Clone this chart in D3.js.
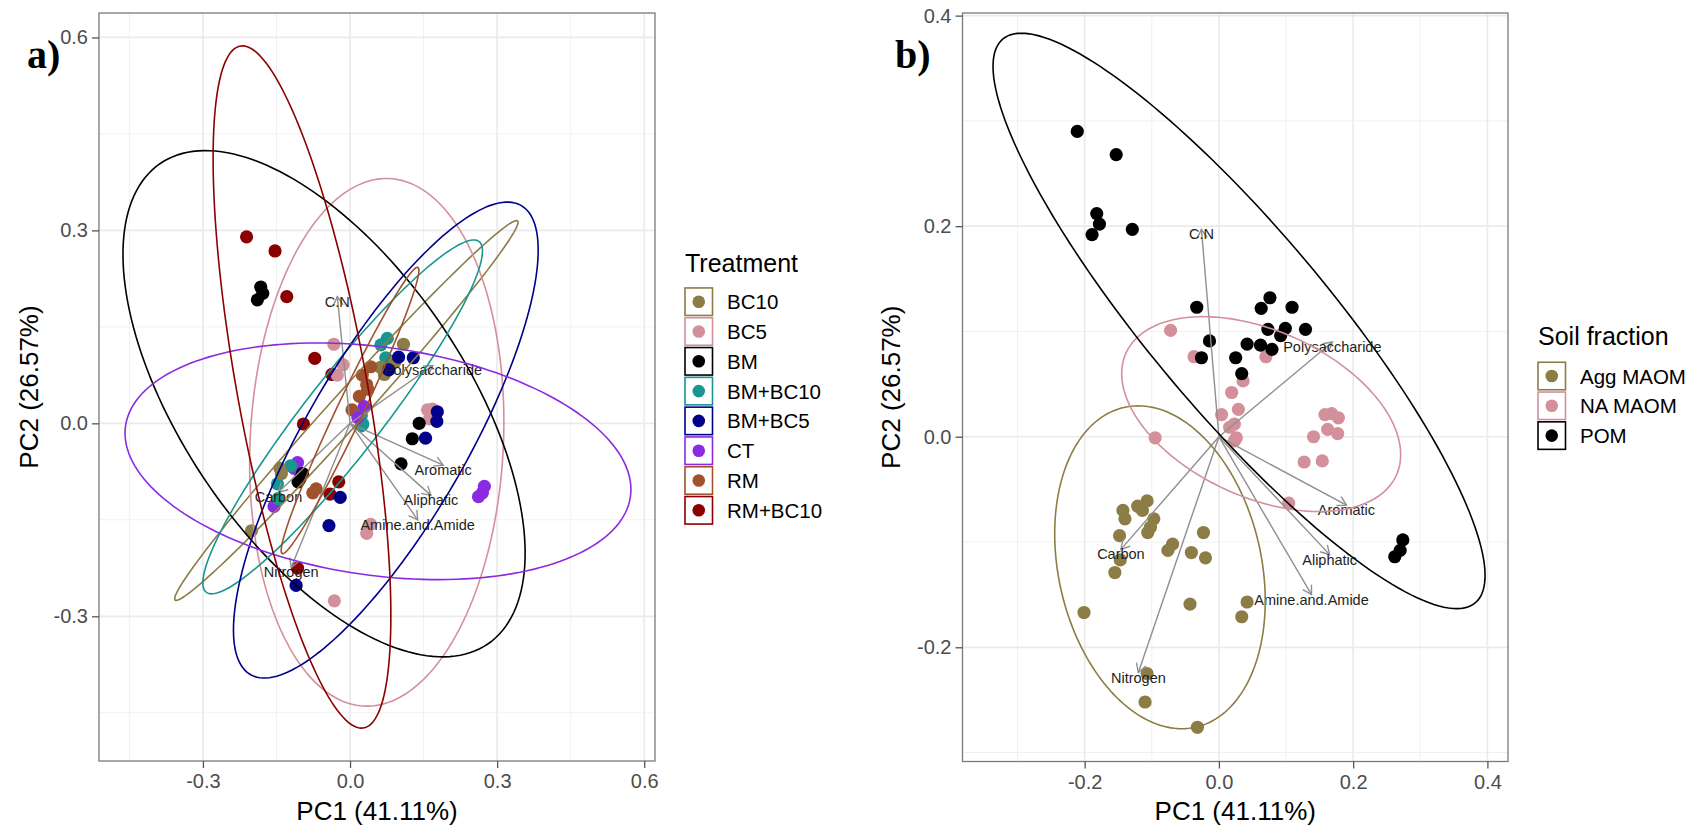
<!DOCTYPE html>
<html>
<head>
<meta charset="utf-8">
<script src="https://cdn.jsdelivr.net/npm/d3@7"></script>
<style>
  html, body { margin: 0; padding: 0; background: #ffffff; }
  svg { display: block; font-family: "Liberation Sans", Arial, Helvetica, sans-serif; }
</style>
</head>
<body>
<svg id="chart" width="1690" height="829"></svg>
<script>
// ---- groups ----
const treatments = ["BC10", "BC5", "BM", "BM+BC10", "BM+BC5", "CT", "RM", "RM+BC10"];
const treatmentColours = ["#8B7D45", "#D4909A", "#000000", "#18968F", "#00008B", "#8A2BE2", "#A0522D", "#8B0000"];
const fractions = ["Agg MAOM", "NA MAOM", "POM"];
const fractionColours = ["#8B7D45", "#D4909A", "#000000"];

// ---- PCA scores by soil fraction: [PC1, PC2, treatment] ----
const aggMaomScores = [
  [-0.107, -0.061, "CT"], [-0.114, -0.070, "CT"], [-0.155, -0.129, "CT"],
  [-0.121, -0.066, "BM+BC10"], [-0.148, -0.094, "BM+BC10"], [-0.147, -0.117, "BM+BC10"],
  [-0.143, -0.070, "BC10"], [-0.140, -0.078, "BC10"], [-0.201, -0.167, "BC10"],
  [-0.069, -0.102, "RM"], [-0.076, -0.108, "RM"],
  [-0.023, -0.091, "RM+BC10"], [-0.041, -0.110, "RM+BC10"], [-0.107, -0.225, "RM+BC10"],
  [-0.020, -0.115, "BM+BC5"], [-0.043, -0.159, "BM+BC5"], [-0.110, -0.252, "BM+BC5"],
  [0.042, -0.157, "BC5"], [0.034, -0.171, "BC5"], [-0.032, -0.276, "BC5"],
  [-0.097, -0.078, "BM"], [-0.102, -0.086, "BM"], [-0.106, -0.091, "BM"]
];
const naMaomScores = [
  [-0.072, 0.101, "RM+BC10"], [-0.037, 0.076, "RM+BC10"], [-0.095, -0.001, "RM+BC10"],
  [0.070, 0.076, "BC10"],
  [0.036, 0.053, "RM"], [0.019, 0.042, "RM"], [0.004, 0.021, "RM"],
  [0.023, 0.012, "BM+BC10"], [0.026, -0.001, "BM+BC10"], [0.023, -0.004, "BM+BC10"],
  [0.029, 0.026, "CT"], [0.016, 0.009, "CT"],
  [0.158, 0.021, "BC5"], [0.168, 0.022, "BC5"], [0.162, 0.007, "BC5"],
  [0.178, 0.018, "BM+BC5"], [0.177, 0.003, "BM+BC5"], [0.154, -0.023, "BM+BC5"],
  [0.141, 0.000, "BM"], [0.127, -0.024, "BM"], [0.104, -0.063, "BM"]
];
const pomScores = [
  [-0.211, 0.290, "RM+BC10"], [-0.153, 0.268, "RM+BC10"], [-0.129, 0.197, "RM+BC10"],
  [-0.182, 0.212, "BM"], [-0.178, 0.202, "BM"], [-0.189, 0.192, "BM"],
  [-0.033, 0.123, "BC5"], [-0.014, 0.091, "BC5"], [-0.026, 0.075, "BC5"],
  [0.076, 0.132, "BM+BC10"], [0.063, 0.122, "BM+BC10"], [0.073, 0.102, "BM+BC10"],
  [0.109, 0.123, "BC10"], [0.092, 0.096, "BC10"], [0.062, 0.087, "BC10"],
  [0.099, 0.103, "BM+BC5"], [0.129, 0.102, "BM+BC5"], [0.079, 0.083, "BM+BC5"],
  [0.042, 0.088, "RM"], [0.025, 0.075, "RM"], [0.034, 0.060, "RM"],
  [0.274, -0.098, "CT"], [0.270, -0.108, "CT"], [0.262, -0.114, "CT"]
];

// ---- variable loadings (arrow tips, PCA units) ----
const loadingNames = ["Carbon", "Nitrogen", "C.N", "Aromatic", "Aliphatic", "Polysaccharide", "Amine.and.Amide"];
const loadingPC1 = [-0.146, -0.120, -0.026, 0.190, 0.165, 0.169, 0.138];
const loadingPC2 = [-0.107, -0.224, 0.197, -0.065, -0.112, 0.090, -0.150];

// ---- 95% ellipses: [centre PC1, centre PC2, semi-major, semi-minor, rotation (deg)] ----
const treatmentEllipses = [
  [-0.0075, 0.020, 0.457, 0.030, 40.1],   // BC10
  [0.0545, -0.0295, 0.411, 0.258, 85.4],  // BC5
  [-0.053, 0.0305, 0.507, 0.257, -43.0],  // BM
  [-0.015, 0.010, 0.390, 0.070, 43.9],    // BM+BC10
  [0.073, -0.026, 0.459, 0.151, 51.2],    // BM+BC5
  [0.057, -0.059, 0.518, 0.178, -5.5],    // CT
  [0.000, 0.020, 0.262, 0.025, 58.0],     // RM
  [-0.098, 0.0565, 0.545, 0.131, -76.3]   // RM+BC10
];
const fractionEllipses = [
  [-0.0878, -0.124, 0.1705, 0.138, -41.9], // Agg MAOM
  [0.063, 0.0215, 0.212, 0.0825, -12.4],   // NA MAOM
  [0.030, 0.110, 0.445, 0.105, -35.7]      // POM
];

// ---- axes ----
const ticksA = [-0.3, 0.0, 0.3, 0.6];
const minorTicksA = [-0.45, -0.15, 0.15, 0.45];
const ticksB = [-0.2, 0.0, 0.2, 0.4];
const minorTicksB = [-0.3, -0.1, 0.1, 0.3];
const xTitle = "PC1 (41.11%)";
const yTitle = "PC2 (26.57%)";

// combined score table
const scores = [
  ...aggMaomScores.map(d => ({ pc1: d[0], pc2: d[1], treatment: d[2], fraction: "Agg MAOM" })),
  ...naMaomScores.map(d => ({ pc1: d[0], pc2: d[1], treatment: d[2], fraction: "NA MAOM" })),
  ...pomScores.map(d => ({ pc1: d[0], pc2: d[1], treatment: d[2], fraction: "POM" }))
];
const loadings = loadingNames.map((n, i) => ({ name: n, pc1: loadingPC1[i], pc2: loadingPC2[i] }));

const svg = d3.select("#chart");
const fmt = v => v.toFixed(1);

function ellipsePoints(e) {
  const [cx, cy, a, b, deg] = e;
  const th = deg * Math.PI / 180;
  const pts = [];
  for (let i = 0; i < 180; i++) {
    const t = i / 180 * 2 * Math.PI;
    pts.push([
      cx + a * Math.cos(th) * Math.cos(t) - b * Math.sin(th) * Math.sin(t),
      cy + a * Math.sin(th) * Math.cos(t) + b * Math.cos(th) * Math.sin(t)
    ]);
  }
  return pts;
}

function drawPanel(cfg) {
  const { id, x, y, ticks, minor, groups, colours, groupKey, ellipses,
          tag, tagX, yTitleX, legendTitle, legendX, legendTitleY, legendY0, legendStep } = cfg;
  const colour = d3.scaleOrdinal().domain(groups).range(colours);
  const [x0, x1] = x.range();
  const [y1, y0] = y.range();
  const g = svg.append("g");

  g.append("clipPath").attr("id", "clip-" + id)
    .append("rect").attr("x", x0).attr("y", y0).attr("width", x1 - x0).attr("height", y1 - y0);

  // grid
  const grid = g.append("g");
  grid.selectAll(".vmin").data(minor).join("line")
    .attr("x1", d => x(d)).attr("x2", d => x(d)).attr("y1", y0).attr("y2", y1)
    .attr("stroke", "#f1f1f1").attr("stroke-width", 1);
  grid.selectAll(".hmin").data(minor).join("line")
    .attr("y1", d => y(d)).attr("y2", d => y(d)).attr("x1", x0).attr("x2", x1)
    .attr("stroke", "#f1f1f1").attr("stroke-width", 1);
  grid.selectAll(".vmaj").data(ticks).join("line")
    .attr("x1", d => x(d)).attr("x2", d => x(d)).attr("y1", y0).attr("y2", y1)
    .attr("stroke", "#ebebeb").attr("stroke-width", 1.7);
  grid.selectAll(".hmaj").data(ticks).join("line")
    .attr("y1", d => y(d)).attr("y2", d => y(d)).attr("x1", x0).attr("x2", x1)
    .attr("stroke", "#ebebeb").attr("stroke-width", 1.7);

  const plot = g.append("g").attr("clip-path", `url(#clip-${id})`);

  // scores
  plot.append("g").selectAll("circle").data(scores).join("circle")
    .attr("cx", d => x(d.pc1)).attr("cy", d => y(d.pc2)).attr("r", 6.6)
    .attr("fill", d => colour(d[groupKey]));

  // loading arrows
  const arrows = plot.append("g").attr("stroke", "#8f8f8f").attr("stroke-width", 1.4).attr("fill", "none");
  loadings.forEach(l => {
    const ox = x(0), oy = y(0), tx = x(l.pc1), ty = y(l.pc2);
    const ang = Math.atan2(ty - oy, tx - ox);
    const len = 10, spread = Math.PI / 6;
    arrows.append("line").attr("x1", ox).attr("y1", oy).attr("x2", tx).attr("y2", ty);
    arrows.append("path").attr("d",
      `M${tx - len * Math.cos(ang - spread)},${ty - len * Math.sin(ang - spread)}L${tx},${ty}` +
      `L${tx - len * Math.cos(ang + spread)},${ty - len * Math.sin(ang + spread)}`);
  });
  plot.append("g").selectAll("text").data(loadings).join("text")
    .attr("x", d => x(d.pc1)).attr("y", d => y(d.pc2) + 5)
    .attr("text-anchor", "middle").attr("dominant-baseline", "central")
    .attr("font-size", 14.5).attr("fill", "#1e1e1e").text(d => d.name);

  // ellipses
  const line = d3.line().x(d => x(d[0])).y(d => y(d[1])).curve(d3.curveLinearClosed);
  plot.append("g").selectAll("path").data(ellipses).join("path")
    .attr("d", d => line(ellipsePoints(d)))
    .attr("fill", "none").attr("stroke", (d, i) => colours[i]).attr("stroke-width", 1.6);

  // panel border
  g.append("rect").attr("x", x0).attr("y", y0).attr("width", x1 - x0).attr("height", y1 - y0)
    .attr("fill", "none").attr("stroke", "#7a7a7a").attr("stroke-width", 1.3);

  // axes
  const ax = g.append("g").attr("transform", `translate(0,${y1})`)
    .call(d3.axisBottom(x).tickValues(ticks).tickFormat(fmt).tickSize(7).tickPadding(6));
  const ay = g.append("g").attr("transform", `translate(${x0},0)`)
    .call(d3.axisLeft(y).tickValues(ticks).tickFormat(fmt).tickSize(7).tickPadding(4));
  [ax, ay].forEach(a => {
    a.select(".domain").remove();
    a.selectAll(".tick line").attr("stroke", "#555").attr("stroke-width", 1.3);
    a.selectAll(".tick text").attr("fill", "#4d4d4d").attr("font-size", 20)
      .attr("font-family", "'Liberation Sans', Arial, Helvetica, sans-serif");
  });

  // titles
  g.append("text").attr("x", (x0 + x1) / 2).attr("y", 820).attr("text-anchor", "middle")
    .attr("font-size", 26).attr("fill", "#000").text(xTitle);
  g.append("text").attr("transform", `translate(${yTitleX},${(y0 + y1) / 2}) rotate(-90)`)
    .attr("text-anchor", "middle").attr("dominant-baseline", "central")
    .attr("font-size", 26).attr("fill", "#000").text(yTitle);
  g.append("text").attr("x", tagX).attr("y", 68)
    .attr("font-family", "'Liberation Serif', 'Times New Roman', serif").attr("font-weight", "bold")
    .attr("font-size", 40).attr("fill", "#000").text(tag);

  // legend
  const lg = g.append("g");
  lg.append("text").attr("x", legendX).attr("y", legendTitleY).attr("font-size", 25)
    .attr("fill", "#000").text(legendTitle);
  const key = 27.5;
  const items = lg.selectAll(".item").data(groups).join("g")
    .attr("transform", (d, i) => `translate(${legendX},${legendY0 + i * legendStep})`);
  items.append("rect").attr("x", 0).attr("y", -key / 2).attr("width", key).attr("height", key)
    .attr("fill", "#fff").attr("stroke", (d, i) => colours[i]).attr("stroke-width", 1.6);
  items.append("circle").attr("cx", key / 2).attr("cy", 0).attr("r", 6.3)
    .attr("fill", (d, i) => colours[i]);
  items.append("text").attr("x", 42).attr("y", 0).attr("dominant-baseline", "central")
    .attr("font-size", 20.5).attr("fill", "#000").text(d => d);
}

drawPanel({
  id: "a",
  x: d3.scaleLinear().domain([-0.512, 0.622]).range([99, 655]),
  y: d3.scaleLinear().domain([-0.525, 0.638]).range([761, 13]),
  ticks: ticksA, minor: minorTicksA,
  groups: treatments, colours: treatmentColours, groupKey: "treatment",
  ellipses: treatmentEllipses,
  tag: "a)", tagX: 27, yTitleX: 29,
  legendTitle: "Treatment", legendX: 685, legendTitleY: 272, legendY0: 301.7, legendStep: 29.8
});

drawPanel({
  id: "b",
  x: d3.scaleLinear().domain([-0.382, 0.4307]).range([962.5, 1508]),
  y: d3.scaleLinear().domain([-0.3085, 0.4025]).range([761.5, 13]),
  ticks: ticksB, minor: minorTicksB,
  groups: fractions, colours: fractionColours, groupKey: "fraction",
  ellipses: fractionEllipses,
  tag: "b)", tagX: 895, yTitleX: 891,
  legendTitle: "Soil fraction", legendX: 1538, legendTitleY: 345, legendY0: 376, legendStep: 29.8
});
</script>
</body>
</html>
